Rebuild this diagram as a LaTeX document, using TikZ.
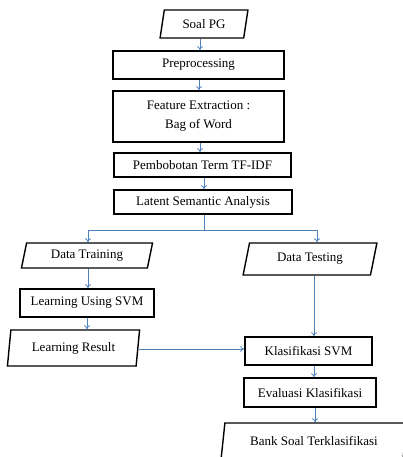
\documentclass[tikz,border=0pt]{standalone}
\usepackage{fontspec}
\setmainfont{Liberation Serif}
\usetikzlibrary{shapes.geometric,arrows.meta}
\definecolor{arrblue}{RGB}{79,129,189}
\tikzset{
  box/.style={draw=black, line width=1.6pt, rectangle, inner sep=0pt, font=\fontsize{13}{19}\selectfont},
  para/.style={draw=black, line width=1.4pt, trapezium, trapezium stretches=true, inner sep=0pt,
     trapezium left angle=#1, trapezium right angle=180-#1, font=\fontsize{13}{19}\selectfont},
  arr/.style={draw=arrblue, line width=0.8pt, -{To[length=4pt,width=6pt]}},
  lin/.style={draw=arrblue, line width=0.8pt}
}
\begin{document}
\begin{tikzpicture}[x=1pt,y=-1pt]
\useasboundingbox (0,0) rectangle (403,457);
\node[para=76, minimum width=88, minimum height=28] (soal) at (204,24) {Soal PG};
\node[box, minimum width=171, minimum height=28] (pre) at (198.5,65) {Preprocessing};
\node[box, minimum width=171, minimum height=51, align=center] (feat) at (198.5,116.5) {Feature Extraction :\\Bag of Word};
\node[box, minimum width=177, minimum height=24] (pem) at (202.5,165) {Pembobotan Term TF-IDF};
\node[box, minimum width=178, minimum height=24] (lsa) at (203,202) {Latent Semantic Analysis};
\node[para=75, minimum width=132, minimum height=25] (dtr) at (87,255.5) {Data Training};
\node[box, minimum width=134, minimum height=28] (lus) at (87,303) {Learning Using SVM};
\node[para=79, minimum width=133, minimum height=36] (lr) at (73.5,348) {Learning Result};
\node[para=73, minimum width=134, minimum height=32] (dte) at (310,259) {Data Testing};
\node[box, minimum width=127, minimum height=28] (ks) at (308.5,351) {Klasifikasi SVM};
\node[box, minimum width=132, minimum height=29] (ev) at (310,392.5) {Evaluasi Klasifikasi};
\node[para=74, minimum width=186, minimum height=35] (bank) at (314,440.5) {Bank Soal Terklasifikasi};
\coordinate (split) at (204,230);
\coordinate (sl) at (88,230);
\coordinate (sr) at (317,230);
\draw[arr] (200,0 |- soal.south) -- (200,0 |- pre.north);
\draw[arr] (199,0 |- pre.south) -- (199,0 |- feat.north);
\draw[arr] (200,0 |- feat.south) -- (200,0 |- pem.north);
\draw[arr] (204,0 |- pem.south) -- (204,0 |- lsa.north);
\draw[lin] (204,0 |- lsa.south) -- (split);
\draw[lin] (sl) -- (sr);
\draw[arr] (sl) -- (sl |- dtr.north);
\draw[arr] (sr) -- (sr |- dte.north);
\draw[arr] (88,0 |- dtr.south) -- (88,0 |- lus.north);
\draw[arr] (87,0 |- lus.south) -- (87,0 |- lr.north);
\draw[arr] (314,0 |- dte.south) -- (314,0 |- ks.north);
\draw[arr] (lr.east |- 0,349) -- (ks.west |- 0,349);
\draw[arr] (314,0 |- ks.south) -- (314,0 |- ev.north);
\draw[arr] (315,0 |- ev.south) -- (315,0 |- bank.north);
\end{tikzpicture}
\end{document}
